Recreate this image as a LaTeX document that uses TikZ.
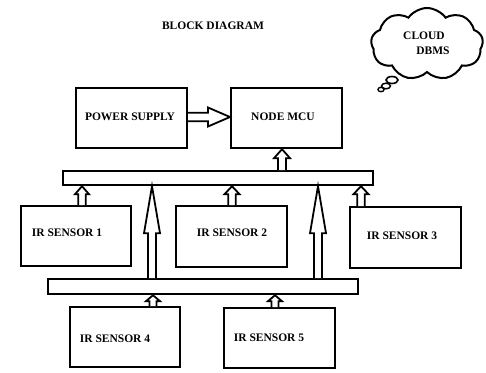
\documentclass[tikz,border=0pt]{standalone}
\usepackage{fontspec}
\setmainfont{Liberation Serif}
\usetikzlibrary{calc,shapes.symbols}
\newcommand\uparr[5]{% base, tip, shaft half, head half, head length
  \draw[blk] ($(#1)+(-#3,0)$) -- ($(#2)+(-#3,#5)$) -- ($(#2)+(-#4,#5)$) -- (#2)
    -- ($(#2)+(#4,#5)$) -- ($(#2)+(#3,#5)$) -- ($(#1)+(#3,0)$);}
\newcommand\rtarr[5]{% base, tip, shaft half, head half, head length
  \draw[blk] ($(#1)+(0,-#3)$) -- ($(#2)+(-#5,-#3)$) -- ($(#2)+(-#5,-#4)$) -- (#2)
    -- ($(#2)+(-#5,#4)$) -- ($(#2)+(-#5,#3)$) -- ($(#1)+(0,#3)$);}
\begin{document}
\begin{tikzpicture}[x=1pt,y=-1pt,
  box/.style={draw,line width=2.2pt,inner sep=0pt,rectangle,anchor=north west},
  lbl/.style={font=\bfseries\fontsize{11.5}{13}\selectfont,inner sep=0pt},
  blk/.style={draw,line width=1.8pt,fill=white,line join=miter}]
\useasboundingbox[fill=white] (0,0) rectangle (486,372);
\node[lbl] (title) at (213,26) {BLOCK DIAGRAM};
% boxes
\node[box,minimum width=111pt,minimum height=60pt] (ps) at (75,87) {};
\node[box,minimum width=111pt,minimum height=60pt] (mcu) at (230,87) {};
\node[box,minimum width=310pt,minimum height=14pt] (bus1) at (62,170) {};
\node[box,minimum width=110pt,minimum height=60pt] (ir1) at (20,205) {};
\node[box,minimum width=111pt,minimum height=61pt] (ir2) at (175,205) {};
\node[box,minimum width=111pt,minimum height=61pt] (ir3) at (349,206) {};
\node[box,minimum width=310pt,minimum height=15pt] (bus2) at (47,278) {};
\node[box,minimum width=110pt,minimum height=60pt] (ir4) at (69,306) {};
\node[box,minimum width=111pt,minimum height=60pt] (ir5) at (223,307) {};
% labels
\node[lbl] (tps) at (130,117) {POWER SUPPLY};
\node[lbl] (tmcu) at (283,117) {NODE MCU};
\node[lbl] (t1) at (67,233) {IR SENSOR 1};
\node[lbl] (t2) at (232,233) {IR SENSOR 2};
\node[lbl] (t3) at (402,236) {IR SENSOR 3};
\node[lbl] (t4) at (115,339) {IR SENSOR 4};
\node[lbl] (t5) at (269,338) {IR SENSOR 5};
% cloud
\node[cloud,draw,line width=2pt,cloud puffs=9,cloud puff arc=110,aspect=1.55,minimum width=112pt,minimum height=72pt] (cl) at (427,44) {};
\node[lbl] (tc1) at (424,36) {CLOUD};
\node[lbl] (tc2) at (433,51) {DBMS};
\draw[line width=1.6pt] (392,80) ellipse (6 and 3.5);
\draw[line width=1.5pt] (386,86) ellipse (4.5 and 2.8);
\draw[line width=1.4pt] (381,89.5) ellipse (3 and 2.2);
% arrows
\coordinate (pa) at (ps.east |- 0,117);
\coordinate (pb) at (mcu.west |- 0,117);
\rtarr{pa}{pb}{4.3}{9.5}{22}
\coordinate (ma) at (282,0 |- bus1.north);
\coordinate (mb) at (282,0 |- mcu.south);
\uparr{ma}{mb}{4}{8}{9}
\coordinate (a1) at (82,0 |- ir1.north);
\coordinate (b1) at (82,0 |- bus1.south);
\uparr{a1}{b1}{3.7}{7}{8}
\coordinate (a2) at (232,0 |- ir2.north);
\coordinate (b2) at (232,0 |- bus1.south);
\uparr{a2}{b2}{3.7}{7.5}{8}
\coordinate (a3) at (361,0 |- ir3.north);
\coordinate (b3) at (361,0 |- bus1.south);
\uparr{a3}{b3}{3.7}{7.5}{8}
\coordinate (aL) at (152,0 |- bus2.north);
\coordinate (bL) at (152,0 |- bus1.south);
\uparr{aL}{bL}{4}{8}{47}
\coordinate (aR) at (318,0 |- bus2.north);
\coordinate (bR) at (318,0 |- bus1.south);
\uparr{aR}{bR}{4}{8}{47}
\coordinate (a4) at (153,0 |- ir4.north);
\coordinate (b4) at (153,0 |- bus2.south);
\uparr{a4}{b4}{3.5}{7}{6}
\coordinate (a5) at (275,0 |- ir5.north);
\coordinate (b5) at (275,0 |- bus2.south);
\uparr{a5}{b5}{3.5}{7}{6}
\end{tikzpicture}
\end{document}
